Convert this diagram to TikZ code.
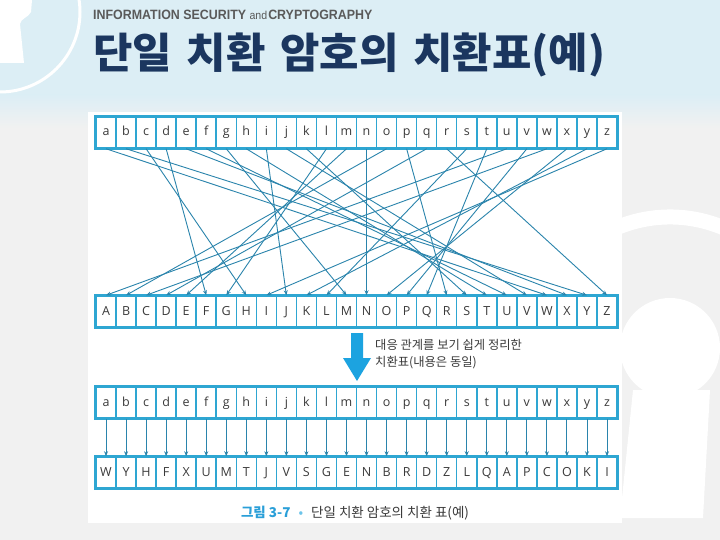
\documentclass[tikz,border=0pt]{standalone}
\usepackage{fontspec}
\setmainfont{Open Sans}
\newfontfamily\kr{Noto Sans CJK KR}
\newfontfamily\krtitle[FakeStretch=1.02]{Noto Sans CJK KR}
\newfontfamily\hdr[FakeStretch=0.92]{Liberation Sans}
\usetikzlibrary{arrows.meta}
\definecolor{cellc}{HTML}{2EA6D2}
\definecolor{linec}{HTML}{2A84AC}
\definecolor{bigarr}{HTML}{1CA3E0}
\definecolor{navy}{HTML}{1B365F}
\definecolor{bgtop}{HTML}{DCEEF5}
\definecolor{bggray}{HTML}{F1F1F1}
\definecolor{txt}{HTML}{3A3A3A}
\definecolor{hdrgray}{HTML}{5A5A5A}
\definecolor{capblue}{HTML}{2A9FD8}
\definecolor{capdot}{HTML}{6CC4EA}
\begin{document}
\begin{tikzpicture}[x=1pt,y=-1pt,
  cell/.style={draw=cellc, line width=1.5pt, fill=white, minimum width=20.04pt,
    minimum height=31pt, inner sep=0pt, text height=9.5pt, text depth=2.5pt,
    font=\fontsize{12.5}{14}\selectfont, text=txt},
  conn/.style={draw=linec, line width=0.9pt, -{Stealth[length=5pt,width=4pt]}},
  rowframe/.style={draw=cellc, line width=2pt}]
\useasboundingbox (0,0) rectangle (720,540);
% background
\fill[bggray] (0,0) rectangle (720,540);
\fill[bgtop] (0,0) rectangle (720,95);
\shade[top color=bgtop, bottom color=bggray] (0,95) rectangle (720,128);
% decorations
\draw[white, line width=3pt] (0,12) circle[radius=80];
\fill[white] (0,0) -- (32,0) -- (31,12) .. controls (28,18) and (21,18) .. (20,24) -- (24,63) -- (0,63) -- cycle;
\draw[white, line width=15pt] (670,355) ++(200:138) arc[start angle=200, end angle=340, radius=138];
\fill[white] (670,348) circle[radius=50];
\fill[white] (633,390) -- (710,390) -- (703,518) -- (620,518) -- cycle;
% panel
\fill[white] (88,112) rectangle (622,523);
% rows
\foreach \l [count=\i] in {a,b,c,d,e,f,g,h,i,j,k,l,m,n,o,p,q,r,s,t,u,v,w,x,y,z}
  \node[cell] (t\l) at ({96+(\i-0.5)*20.04},132.5) {\l};
\foreach \l [count=\i] in {A,B,C,D,E,F,G,H,I,J,K,L,M,N,O,P,Q,R,S,T,U,V,W,X,Y,Z}
  \node[cell] (u\l) at ({96+(\i-0.5)*20.04},311.5) {\l};
\foreach \l [count=\i] in {a,b,c,d,e,f,g,h,i,j,k,l,m,n,o,p,q,r,s,t,u,v,w,x,y,z}
  \node[cell] (p\l) at ({96+(\i-0.5)*20.04},402.5) {\l};
\foreach \l [count=\i] in {W,Y,H,F,X,U,M,T,J,V,S,G,E,N,B,R,D,Z,L,Q,A,P,C,O,K,I}
  \node[cell] (c\i) at ({96+(\i-0.5)*20.04},472.5) {\l};
\draw[rowframe] (ta.north west) rectangle (tz.south east);
\draw[rowframe] (uA.north west) rectangle (uZ.south east);
\draw[rowframe] (pa.north west) rectangle (pz.south east);
\draw[rowframe] (c1.north west) rectangle (c26.south east);
% crossing connectors
\foreach \p/\c in {a/W,b/Y,c/H,d/F,e/X,f/U,g/M,h/T,i/J,j/V,k/S,l/G,m/E,n/N,o/B,p/R,q/D,r/Z,s/L,t/Q,u/A,v/P,w/C,x/O,y/K,z/I}
  \draw[conn] (t\p.south) -- (u\c.north);
% straight connectors
\foreach \l [count=\i] in {a,b,c,d,e,f,g,h,i,j,k,l,m,n,o,p,q,r,s,t,u,v,w,x,y,z}
  \draw[conn] (p\l.south) -- (c\i.north);
% big arrow
\fill[bigarr] (351,333) -- (363,333) -- (363,358) -- (371,358) -- (357,381) -- (343,358) -- (351,358) -- cycle;
\node[anchor=north west, align=left, inner sep=0pt, font=\kr\fontsize{12.3}{17}\selectfont, text=txt] (note) at (375,339) {대응 관계를 보기 쉽게 정리한\\치환표(내용은 동일)};
% caption
\node[inner sep=0pt, font=\kr\fontsize{13.5}{15}\selectfont, text=txt] (cap) at (355,513) {{\bfseries\color{capblue}그림 3-7}\hspace{8pt}{\color{capdot}•}\hspace{8pt}단일 치환 암호의 치환 표(예)};
% header
\node[anchor=west, inner sep=0pt, font=\hdr\bfseries\fontsize{13.5}{14}\selectfont, text=hdrgray] (hdr) at (93,15) {INFORMATION SECURITY {\mdseries\fontsize{11.5}{12}\selectfont and}\hspace{1pt}CRYPTOGRAPHY};
\node[anchor=west, inner sep=0pt, font=\krtitle\bfseries\fontsize{42}{44}\selectfont, text=navy] (title) at (93,55) {단일\hspace{5pt} 치환\hspace{5pt} 암호의\hspace{5pt} 치환표(예)};
\end{tikzpicture}
\end{document}
